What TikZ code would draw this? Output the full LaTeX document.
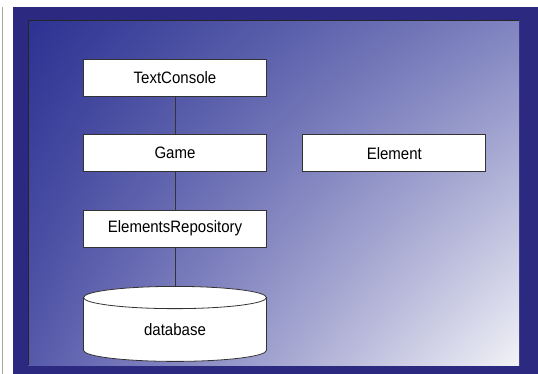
\documentclass[tikz,border=0pt]{standalone}
\usepackage{fontspec}
\setmainfont{Liberation Sans}[FakeStretch=0.91]
\usetikzlibrary{positioning,shapes.geometric,shadings}
\definecolor{framenavy}{HTML}{2C2A80}
\definecolor{shadeul}{HTML}{2C3292}
\definecolor{shadeur}{HTML}{8084C0}
\definecolor{shadell}{HTML}{5659AA}
\definecolor{shadelr}{HTML}{F2F2F7}
\definecolor{boxline}{HTML}{333333}

\begin{document}
\begin{tikzpicture}[x=1pt,y=-1pt,node distance=37.5pt,
  classbox/.style={draw=boxline,fill=white,line width=0.8pt,
    minimum width=183pt,minimum height=37pt,inner sep=0pt,
    font=\fontsize{16.5}{19}\selectfont},
  dbbox/.style={cylinder,shape border rotate=90,aspect=0.36,draw=boxline,
    fill=white,line width=0.8pt,minimum width=183pt,minimum height=75pt,
    inner sep=0pt,font=\fontsize{16.5}{19}\selectfont}]
\useasboundingbox (0,0) rectangle (538,374);
% frame and background
\draw[gray!70,line width=0.8pt] (2,7) -- (2,374);
\fill[framenavy] (13,7) rectangle (538,374);
\shade[upper left=shadeul,upper right=shadeur,lower left=shadell,
  lower right=shadelr] (28,21) rectangle (519,365);
\draw[black!85,line width=1pt] (28,365) -- (28,21) -- (519,21);
% classes
\node[classbox] (console) at (175,78) {TextConsole};
\node[classbox,below=of console] (game) {Game};
\node[classbox,right=35.5pt of game] (element) {Element};
\node[classbox,below=of game] (repo) {ElementsRepository};
\node[dbbox,below=38.5pt of repo] (db) {database};
\draw[boxline,line width=0.9pt] (console) -- (game);
\draw[boxline,line width=0.9pt] (game) -- (repo);
\draw[boxline,line width=0.9pt] (repo) -- (db);
\end{tikzpicture}
\end{document}
